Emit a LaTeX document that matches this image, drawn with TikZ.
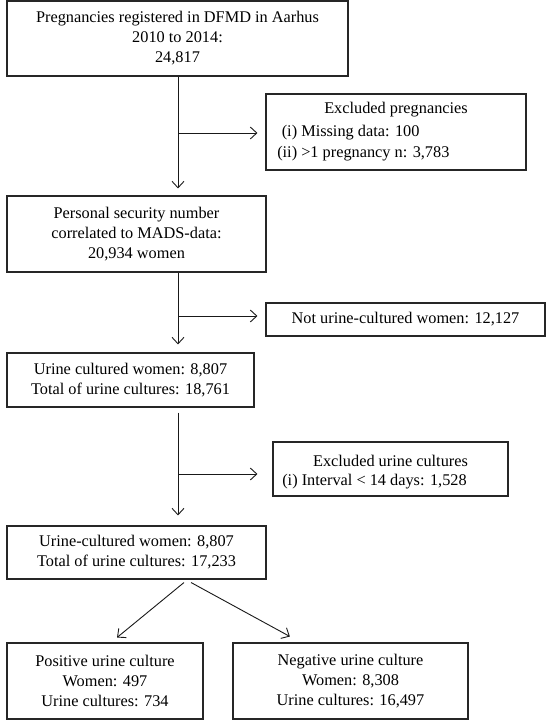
\documentclass[tikz,border=0pt]{standalone}
\usepackage{fontspec}
\setmainfont{Liberation Serif}
\usetikzlibrary{arrows.meta}
\newcommand\diagfont{\fontsize{16.3}{20}\selectfont}
\newcommand\lbl[1]{\makebox[20pt][r]{#1}}
\begin{document}
\begin{tikzpicture}[x=1pt,y=-1pt,
  box/.style={draw=black!85, line width=1.1pt, inner sep=0pt, align=center, font=\diagfont},
  txt/.style={inner sep=0pt, font=\diagfont},
  conn/.style={draw=black!90, line width=0.9pt, -{Straight Barb[length=6.5pt,width=12pt,line width=0.9pt]}},
  plain/.style={draw=black!90, line width=0.9pt}]
\useasboundingbox[fill=white] (0,0) rectangle (547,721);

% main column
\node[box, minimum width=341pt, minimum height=75pt] (b1) at (177.5,38.5)
  {Pregnancies registered in DFMD in Aarhus\\2010 to 2014:\\24,817};
\node[box, minimum width=259pt, minimum height=76pt] (b2) at (136.5,234)
  {Personal security number\\correlated to MADS-data:\\20,934 women};
\node[box, minimum width=247pt, minimum height=54pt] (b3) at (130.5,380)
  {Urine cultured women: 8,807\\Total of urine cultures: 18,761};
\node[box, minimum width=259pt, minimum height=53pt] (b4) at (136.5,552.5)
  {Urine-cultured women: 8,807\\Total of urine cultures: 17,233};
\node[box, minimum width=196pt, minimum height=76pt] (pos) at (105,681)
  {Positive urine culture\\Women: 497\\Urine cultures: 734};
\node[box, minimum width=235pt, minimum height=76pt] (neg) at (350.5,681)
  {Negative urine culture\\Women: 8,308\\Urine cultures: 16,497};

% side boxes
\node[box, minimum width=260pt, minimum height=76pt] (ex1) at (396,132) {};
\node[txt] (ex1t) at (396,110) {Excluded pregnancies};
\node[txt, anchor=west] (ex1a) at (277,133) {\lbl{(i)}\ Missing data: 100};
\node[txt, anchor=west] (ex1b) at (277,154) {\lbl{(ii)}\ >1 pregnancy n: 3,783};

\node[box, minimum width=279pt, minimum height=33pt] (nu) at (405.5,319.5)
  {Not urine-cultured women: 12,127};

\node[box, minimum width=235pt, minimum height=54pt] (ex2) at (390.5,469) {};
\node[txt] (ex2t) at (390.5,461) {Excluded urine cultures};
\node[txt, anchor=west] (ex2a) at (277.5,482) {\lbl{(i)}\ Interval < 14 days: 1,528};

% junctions
\coordinate (j1) at (178,133);
\coordinate (j2) at (178,316);
\coordinate (j3) at (178,474);

% connectors
\draw[conn, shorten >=7pt] (b1.south -| j1) -- (b2.north -| j1);
\draw[conn, shorten >=8pt] (j1) -- (ex1.west |- j1);

\draw[conn, shorten >=8pt] (b2.south -| j2) -- (b3.north -| j2);
\draw[conn, shorten >=8pt] (j2) -- (nu.west |- j2);

\draw[conn, shorten <=5pt, shorten >=10pt] (b3.south -| j3) -- (b4.north -| j3);
\draw[conn, shorten >=15pt] (j3) -- (ex2.west |- j3);

\draw[conn, shorten <=4.7pt, shorten >=7.8pt] ([xshift=51.1pt]b4.south) -- ([xshift=6pt]pos.north);
\draw[conn, shorten <=6.2pt, shorten >=12.4pt] ([xshift=49.1pt]b4.south) -- ([xshift=-49.7pt]neg.north);
\end{tikzpicture}
\end{document}
